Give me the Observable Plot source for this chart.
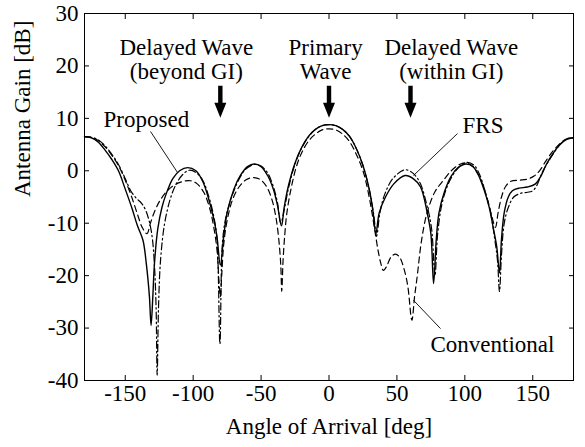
<!DOCTYPE html>
<html><head><meta charset="utf-8">
<script src="https://cdn.jsdelivr.net/npm/d3@7"></script>
<script src="https://cdn.jsdelivr.net/npm/@observablehq/plot@0.6"></script>
<style>
body{margin:0;background:#fff}
</style>
</head><body><div id="chart"></div>
<script>
// ---- data ----
const proposedX = [-180,-175,-170,-165,-160,-155,-150,-145,-141,-137,-134.5,-132.2,-131,-129.7,-128.5,-126,-123,-120,-115,-110,-104,-98,-93,-89,-85,-82.5,-80,-77.5,-75,-70,-65,-60,-55,-50,-45,-41,-38,-35,-33,-30,-25,-20,-15,-10,-5,0,5,10,15,20,25,30,32.5,34.5,37,41.6,47.7,56,62,67.4,72.3,75,77,79,81,85,90,95,101,106,110,114,118,121,123.5,125.5,127,129,132,135,140,146,152,156,160,165,170,175,180];
const proposedY = [6.5,6.3,5.5,4.0,2.2,0,-3.5,-7.2,-10.5,-13.2,-17.7,-24,-29.5,-24,-17.7,-11,-7,-4.5,-1.5,0,0.6,0,-2,-5,-9,-12.5,-18,-12.5,-8,-3.5,-0.8,0.8,1.3,0.8,-1,-3.5,-6.5,-10.5,-7,-3,1.5,4.5,6.6,7.9,8.6,8.8,8.6,7.9,6.6,4.3,1.0,-4,-8,-12,-8,-5,-2.5,-0.9,-1.5,-3.1,-8,-12,-21.5,-13,-8,-4,-1,0.6,1.3,0.8,-0.8,-3.5,-7,-11,-14.5,-19.5,-13,-8,-5,-3.8,-3.3,-3.1,-2.5,-1,1.2,3.3,5,6,6.3];

const frsX = [-180,-175,-170,-165,-160,-155,-150,-146,-142,-138,-135,-132,-130,-128.5,-127.3,-126.5,-125.5,-124,-121,-117,-113,-108,-103,-98,-93,-89,-85,-82.5,-80.3,-78.5,-76,-71,-66,-61,-55,-50,-45,-41,-38,-35.5,-33,-30,-25,-20,-15,-10,-5,0,5,10,15,20,25,30,33,35,37.5,41,47,56,62,67,72,75.5,78,80,83,87,92,97,102,107,111,115,119,122,124,125.5,127,129,132,136,141,146,150,153,157,162,167,172,176,180];
const frsY = [6.5,6.4,5.9,4.8,3.2,1.2,-1.5,-3.8,-5.2,-6.2,-7.5,-10,-13,-18,-26,-39,-26,-17,-10,-5.5,-2.8,-0.8,0.1,-0.3,-1.8,-4.5,-8.5,-13,-33,-14,-9,-4.5,-1.5,0.4,1.2,0.9,-0.5,-3,-6,-10,-7.5,-3.5,1.3,4.4,6.5,7.9,8.6,8.8,8.6,7.9,6.6,4.3,1.0,-4,-8.5,-12.5,-8,-4.5,-1.5,0.2,-0.5,-2.3,-6.5,-11,-20,-12,-6.5,-3,-0.5,1,1.6,1,-0.8,-4,-8,-13,-17,-23,-16,-10,-7,-5,-4.3,-4.1,-3.8,-2.8,-0.3,2,4,5.5,6.2,6.3];

const conventionalX = [-180,-175,-170,-165,-160,-155,-150,-145,-141,-137.5,-134,-131.5,-128,-124,-119,-113,-107,-102,-97,-92,-88,-85,-82.5,-81,-80,-79,-77.5,-75,-71,-66,-61,-56,-51,-46,-42,-39,-37,-35.5,-34.8,-33.8,-32.5,-31,-28,-24,-20,-15,-10,-5,0,5,10,15,20,25,28,31,33.5,36,38,40,42.5,45.5,49,52,55,58,61,63,65,68,72,78,84,90,96,101,106,110,114,117,120,122.5,124.5,127,130,134,140,146,151,155,160,165,170,175,180];
const conventionalY = [6.5,6.4,5.8,4.6,3.0,1.0,-1.8,-5.2,-8.3,-10.8,-12,-10,-7.5,-5.5,-3.8,-2.6,-2,-1.9,-2.5,-4.2,-7,-10.5,-15,-21,-24,-20,-14,-9.5,-5.5,-3,-1.7,-1.3,-1.6,-3,-5.5,-9,-13,-18,-23,-17,-12,-8,-3.5,0.8,3.5,5.7,7,7.8,8.0,7.8,7,5.6,3.2,0,-3,-7,-11,-15,-17.5,-19,-18.2,-16.5,-15.9,-16.5,-18.5,-22,-28.5,-24,-20,-13.5,-8.2,-4,-1.9,0,1.2,1.5,0.8,-0.8,-3.2,-5.8,-8.8,-10.8,-8,-5,-3,-2,-1.8,-1.6,-1,0,2,3.8,5.2,6.1,6.3];

const xTicks = [-150,-100,-50,0,50,100,150];
const yTicks = [-40,-30,-20,-10,0,10,20,30];
const arrowX = [-80, 0, 60];
const arrowTipY = [10.1, 10.1, 10.1];
const waveLabels = [
  {x: -105, y: 23.4, text: "Delayed Wave"},
  {x: -105, y: 19.0, text: "(beyond GI)"},
  {x: -2.5, y: 23.4, text: "Primary"},
  {x: -2.5, y: 19.0, text: "Wave"},
  {x: 90, y: 23.4, text: "Delayed Wave"},
  {x: 90, y: 19.0, text: "(within GI)"}
];
const seriesLabels = [
  {x: -166, y: 9.7, text: "Proposed"},
  {x: 98.3, y: 8.7, text: "FRS"},
  {x: 74.7, y: -33.2, text: "Conventional"}
];
const leaders = [
  {x1: -131.4, y1: 7.5, x2: -111.6, y2: -0.3},
  {x1: 94.6, y1: 7.1, x2: 62.2, y2: -0.9},
  {x1: 82.1, y1: -30.1, x2: 62.2, y2: -24.7}
];

const toRows = (xs, ys) => xs.map((x, i) => ({x, y: ys[i]}));
const proposed = toRows(proposedX, proposedY);
const frs = toRows(frsX, frsY);
const conventional = toRows(conventionalX, conventionalY);
const arrows = arrowX.map((x, i) => ({x, y: arrowTipY[i]}));

const arrowSymbol = {
  draw(c) {
    c.moveTo(-2.2, -32); c.lineTo(2.2, -32); c.lineTo(2.2, -15);
    c.lineTo(6, -15); c.lineTo(0, 0); c.lineTo(-6, -15);
    c.lineTo(-2.2, -15); c.closePath();
  }
};

const FONT = "'Liberation Serif', Tinos, 'Times New Roman', Times, 'DejaVu Serif', 'Noto Serif', serif";
const FS = 23;
const plot = Plot.plot({
  width: 585, height: 447,
  marginLeft: 84, marginRight: 12, marginTop: 13, marginBottom: 67,
  style: {fontFamily: FONT, fontSize: FS + "px", background: "white", color: "black"},
  x: {domain: [-180, 180]},
  y: {domain: [-40, 30]},
  marks: [
    Plot.axisX(xTicks, {anchor: "bottom", tickSize: -5, tickPadding: 9, fontSize: FS, label: null, tickFormat: d => String(d)}),
    Plot.axisX(xTicks, {anchor: "top", tickSize: -5, label: null, tickFormat: () => ""}),
    Plot.axisY(yTicks, {anchor: "left", tickSize: -5, tickPadding: 11, fontSize: FS, label: null, tickFormat: d => String(d)}),
    Plot.axisY(yTicks, {anchor: "right", tickSize: -5, label: null, tickFormat: () => ""}),
    Plot.frame({stroke: "black", strokeWidth: 1}),
    Plot.line(conventional, {x: "x", y: "y", curve: "catmull-rom", stroke: "black", strokeWidth: 1.2, strokeDasharray: "6,4"}),
    Plot.line(frs, {x: "x", y: "y", curve: "catmull-rom", stroke: "black", strokeWidth: 1.2, strokeDasharray: "7,3,1.5,3"}),
    Plot.line(proposed, {x: "x", y: "y", curve: "catmull-rom", stroke: "black", strokeWidth: 1.4}),
    Plot.link(leaders, {x1: "x1", y1: "y1", x2: "x2", y2: "y2", stroke: "black", strokeWidth: 0.9}),
    Plot.dot(arrows, {x: "x", y: "y", symbol: arrowSymbol, fill: "black", stroke: "none"}),
    Plot.text(waveLabels, {x: "x", y: "y", text: "text", fontSize: FS, fill: "black"}),
    Plot.text(seriesLabels, {x: "x", y: "y", text: "text", fontSize: FS, fill: "black", textAnchor: "start"}),
    Plot.text(["Angle of Arrival [deg]"], {frameAnchor: "bottom", dy: 53, fontSize: FS, fill: "black"}),
    Plot.text(["Antenna Gain [dB]"], {frameAnchor: "left", dx: -62, rotate: -90, fontSize: FS, fill: "black"})
  ]
});
d3.select(plot).selectAll("text, g")
  .attr("font-family", FONT)
  .style("font-family", FONT);
d3.select(plot).attr("font-family", FONT).style("font-family", FONT);
document.getElementById("chart").appendChild(plot);
</script>
</body></html>
